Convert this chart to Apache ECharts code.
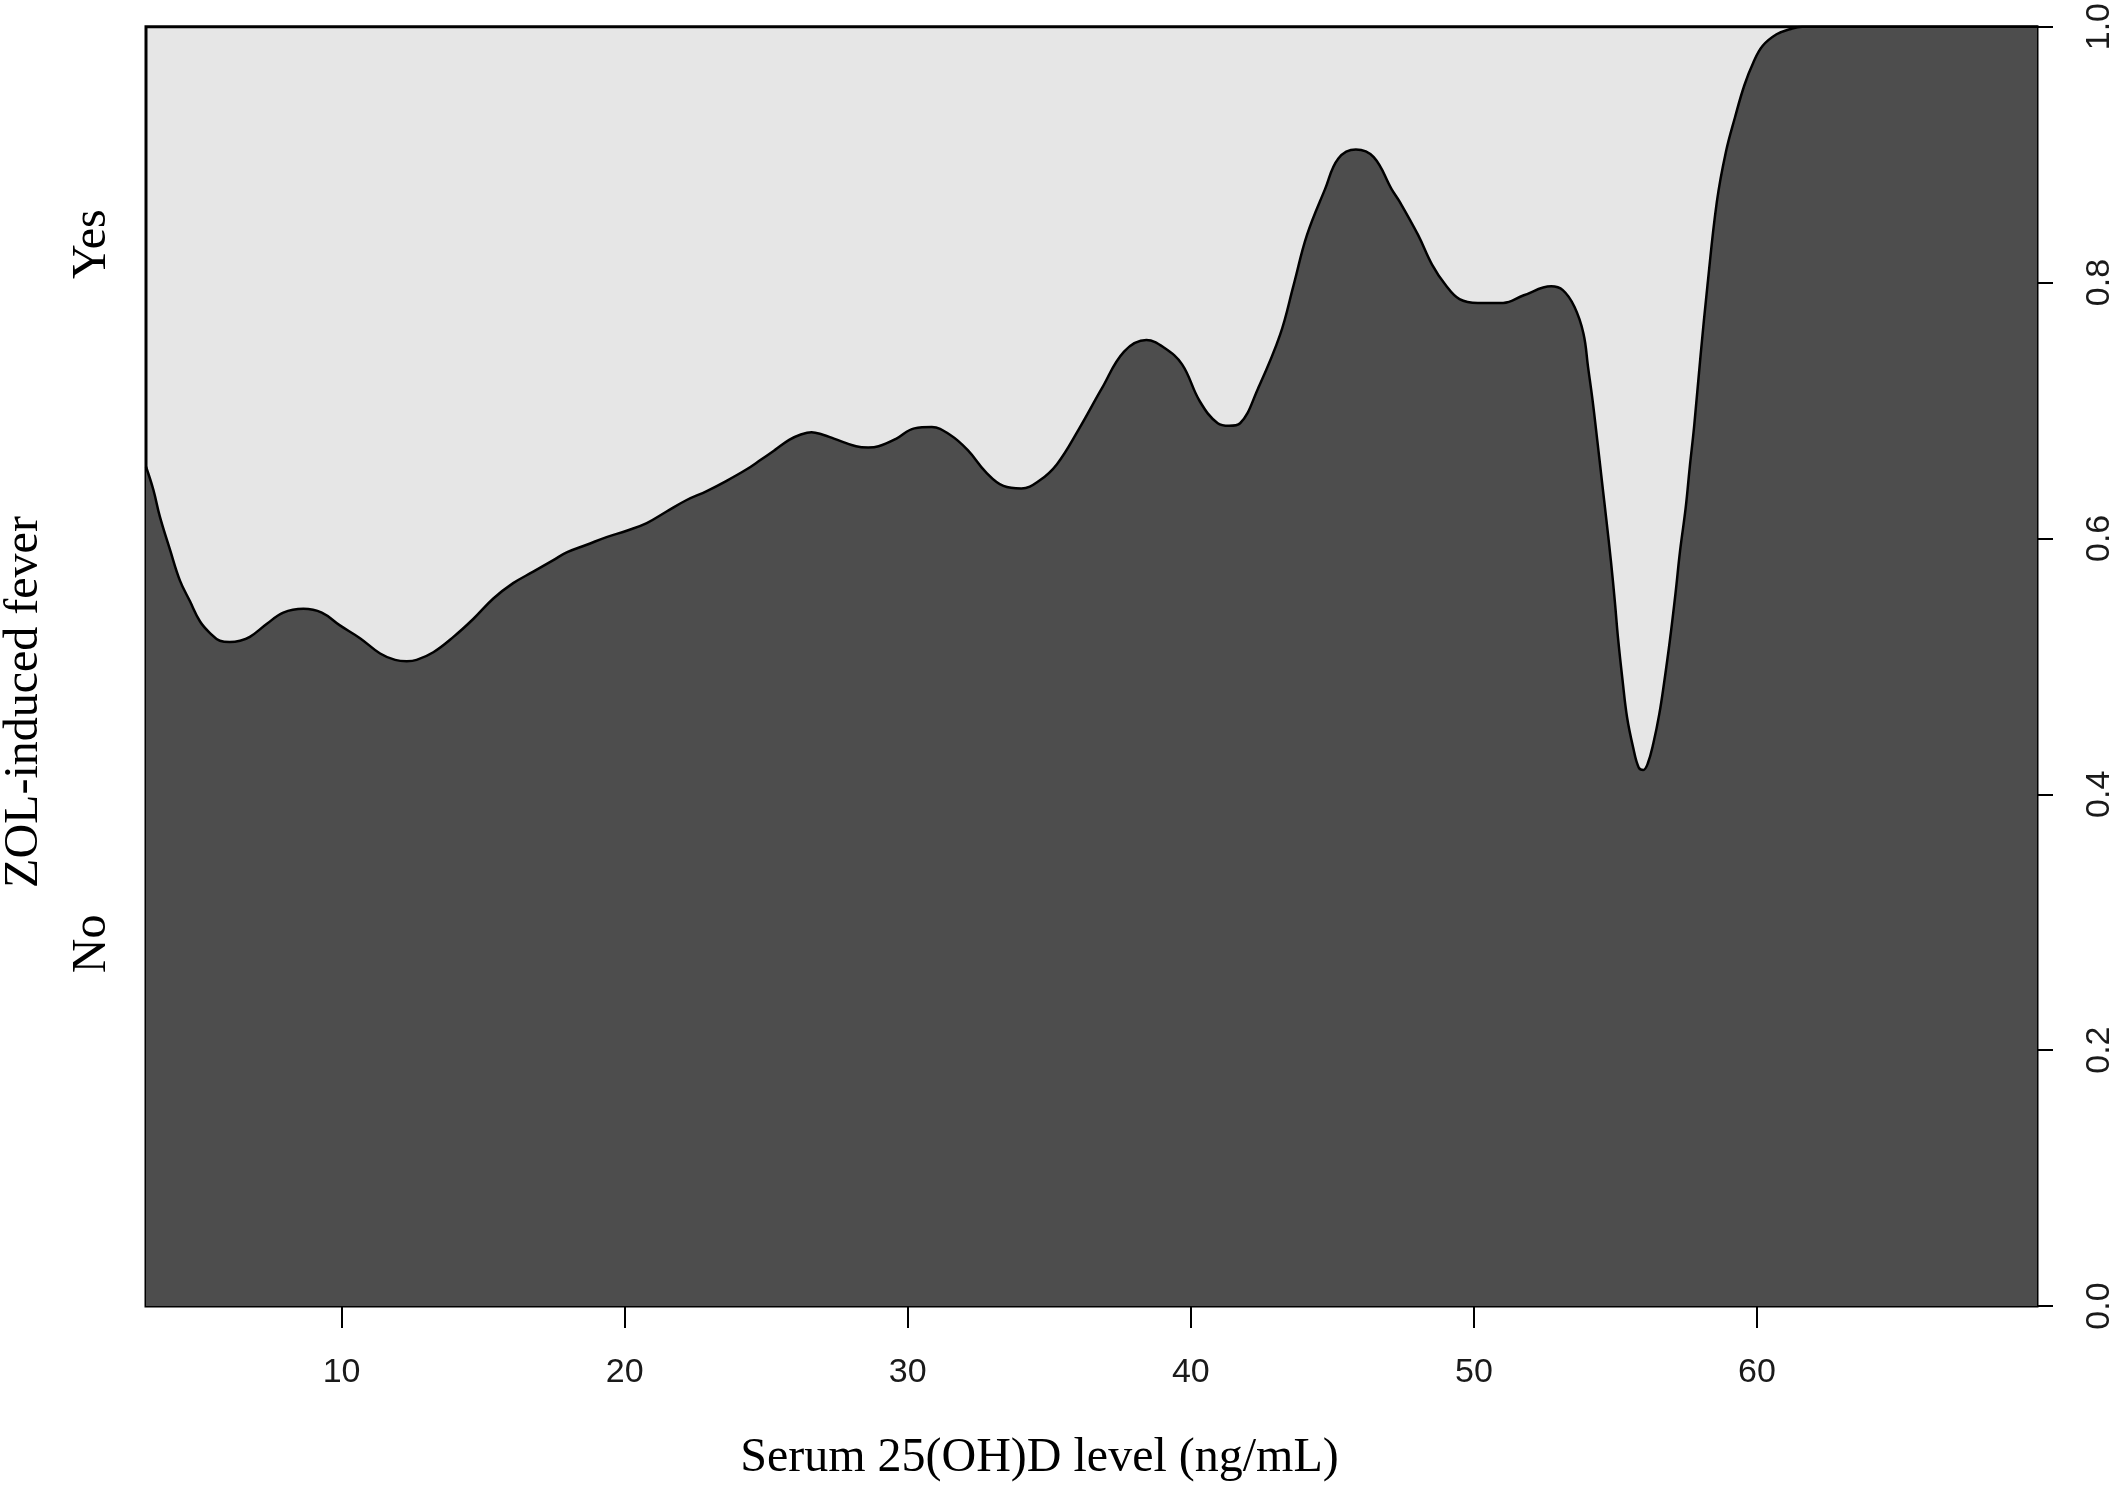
<!DOCTYPE html>
<html>
<head>
<meta charset="utf-8">
<script src="https://cdn.jsdelivr.net/npm/echarts@6/dist/echarts.min.js"></script>
<style>
  html, body { margin: 0; padding: 0; background: #ffffff; }
  #chart { width: 2120px; height: 1488px; }
</style>
</head>
<body>
<div id="chart"></div>
<script>
// Serum 25(OH)D level (ng/mL) sample points along the conditional density boundary
const serumLevels = [
  3.09, 3.35, 3.58, 3.94, 4.29, 4.64, 5.00, 5.35, 5.70, 6.05, 6.41, 6.76, 7.35, 7.94, 8.65,
  9.30, 9.94, 10.65, 11.36, 11.89, 12.30, 12.65, 13.24, 13.95, 14.65, 15.36, 16.06, 16.77,
  17.48, 17.95, 18.66, 19.36, 20.07, 20.78, 21.48, 22.19, 22.90, 23.60, 24.31, 24.78, 25.30,
  25.81, 26.20, 26.60, 27.00, 27.39, 28.17, 28.60, 28.97, 29.60, 30.23, 30.85, 31.49, 32.12,
  32.75, 33.38, 34.01, 34.64, 35.27, 36.06, 36.85, 37.64, 38.43, 39.06, 39.69, 40.32, 40.95,
  41.35, 41.74, 42.37, 43.15, 43.63, 44.10, 44.74, 45.21, 45.83, 46.46, 47.09, 47.38, 48.03,
  48.52, 49.00, 49.49, 50.14, 51.03, 51.76, 52.73, 53.14, 53.55, 53.87, 54.03, 54.19, 54.36,
  54.52, 54.68, 54.84, 54.98, 55.09, 55.25, 55.41, 55.62, 55.82, 55.98, 56.14, 56.34, 56.55,
  56.71, 56.92, 57.12, 57.28, 57.48, 57.62, 57.78, 58.01, 58.25, 58.58, 58.90, 59.22, 59.55,
  59.87, 60.20, 60.69, 61.16, 61.60, 63.00, 66.00, 69.89
];
// Cumulative conditional proportion of "No" (boundary between the two shaded regions)
const proportionNo = [
  0.656, 0.638, 0.617, 0.591, 0.567, 0.551, 0.535, 0.526, 0.520, 0.519, 0.520, 0.523, 0.533, 0.542, 0.545,
  0.542, 0.532, 0.522, 0.510, 0.505, 0.504, 0.505, 0.511, 0.523, 0.537, 0.553, 0.565, 0.574,
  0.583, 0.589, 0.595, 0.601, 0.606, 0.612, 0.621, 0.630, 0.637, 0.645, 0.654, 0.661, 0.669,
  0.677, 0.681, 0.683, 0.681, 0.678, 0.672, 0.671, 0.672, 0.678, 0.686, 0.687, 0.681, 0.669,
  0.652, 0.641, 0.639, 0.645, 0.658, 0.686, 0.717, 0.746, 0.755, 0.749, 0.736, 0.707, 0.690,
  0.688, 0.690, 0.717, 0.759, 0.798, 0.837, 0.873, 0.897, 0.904, 0.898, 0.873, 0.863, 0.837,
  0.814, 0.798, 0.787, 0.784, 0.784, 0.790, 0.797, 0.794, 0.781, 0.760, 0.734, 0.708, 0.676,
  0.645, 0.614, 0.582, 0.550, 0.522, 0.489, 0.460, 0.437, 0.421, 0.419, 0.424, 0.440, 0.463,
  0.486, 0.520, 0.557, 0.590, 0.624, 0.655, 0.688, 0.744, 0.798, 0.863, 0.902, 0.929, 0.954,
  0.972, 0.985, 0.994, 0.998, 1.000, 1.000, 1.000, 1.000
];
const xTickValues = [10, 20, 30, 40, 50, 60];
const categoryLabels = ['No', 'Yes'];
const categoryLabelValues = [0.283, 0.830];
const xTitle = 'Serum 25(OH)D level (ng/mL)';
const yTitle = 'ZOL-induced fever';

const boundary = serumLevels.map((x, i) => [x, proportionNo[i]]);

const chart = echarts.init(document.getElementById('chart'), null, { renderer: 'canvas' });
chart.setOption({
  animation: false,
  backgroundColor: '#ffffff',
  grid: {
    left: 146, right: 83, top: 26, bottom: 182,
    show: true,
    backgroundColor: '#e6e6e6',
    borderColor: '#000000',
    borderWidth: 3
  },
  xAxis: {
    type: 'value',
    min: 3.09,
    max: 69.89,
    axisLine: { show: false },
    splitLine: { show: false },
    axisTick: {
      show: true,
      customValues: xTickValues,
      length: 22,
      lineStyle: { color: '#000000', width: 2 }
    },
    axisLabel: {
      show: true,
      customValues: xTickValues,
      margin: 50,
      fontFamily: 'Liberation Sans, Arial, sans-serif',
      fontSize: 34,
      color: '#1a1a1a'
    },
    name: xTitle,
    nameLocation: 'middle',
    nameGap: 128,
    nameTextStyle: {
      fontFamily: 'Liberation Serif, Times New Roman, serif',
      fontSize: 48,
      color: '#000000',
      padding: [0, 104, 0, 0]
    }
  },
  yAxis: [
    {
      type: 'value',
      position: 'right',
      min: 0,
      max: 1,
      interval: 0.2,
      axisLine: { show: true, lineStyle: { color: '#000000', width: 2 } },
      splitLine: { show: false },
      axisTick: { show: true, length: 16, lineStyle: { color: '#000000', width: 2 } },
      axisLabel: {
        rotate: 90,
        margin: 46,
        fontFamily: 'Liberation Sans, Arial, sans-serif',
        fontSize: 34,
        color: '#1a1a1a',
        formatter: v => v.toFixed(1)
      }
    },
    {
      type: 'value',
      position: 'left',
      min: 0,
      max: 1,
      axisLine: { show: false },
      axisTick: { show: false },
      splitLine: { show: false },
      axisLabel: {
        show: true,
        customValues: categoryLabelValues,
        rotate: 90,
        margin: 30,
        fontFamily: 'Liberation Serif, Times New Roman, serif',
        fontSize: 48,
        color: '#000000',
        formatter: v => {
          const idx = categoryLabelValues.findIndex(c => Math.abs(c - v) < 1e-6);
          return idx >= 0 ? categoryLabels[idx] : '';
        }
      }
    }
  ],
  graphic: [
    {
      type: 'text',
      x: 24,
      y: 702,
      rotation: Math.PI / 2,
      style: {
        text: yTitle,
        fontFamily: 'Liberation Serif, Times New Roman, serif',
        fontSize: 48,
        fill: '#000000',
        textAlign: 'center',
        textVerticalAlign: 'middle'
      }
    }
  ],
  series: [
    {
      type: 'line',
      yAxisIndex: 0,
      data: boundary,
      showSymbol: false,
      smooth: 0.4,
      lineStyle: { color: '#000000', width: 2.5 },
      areaStyle: { color: '#4d4d4d', opacity: 1, origin: 'start' },
      z: 2
    }
  ]
});
</script>
</body>
</html>
